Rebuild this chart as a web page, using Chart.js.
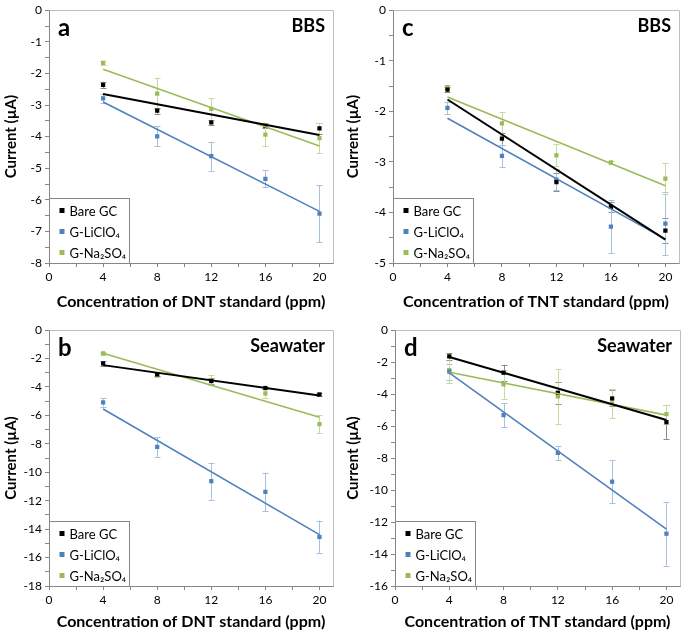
<!DOCTYPE html>
<html>
<head>
<meta charset="utf-8">
<script src="https://cdn.jsdelivr.net/npm/chart.js@4.4.1/dist/chart.umd.min.js"></script>
<style>
  body { margin: 0; background: #fff; }
  #wrap { position: relative; width: 685px; height: 634px; overflow: hidden; }
  canvas { position: absolute; }
</style>
</head>
<body>
<div id="wrap">
  <canvas id="pa" width="342" height="314" style="left:0;top:0"></canvas>
  <canvas id="pc" width="343" height="314" style="left:342px;top:0"></canvas>
  <canvas id="pb" width="342" height="318" style="left:0;top:316px"></canvas>
  <canvas id="pd" width="343" height="318" style="left:342px;top:316px"></canvas>
</div>
<script>
// x values (ppm)
const conc = [4, 8, 12, 16, 20];
const seriesNames = ["Bare GC", "G-LiClO\u2084", "G-Na\u2082SO\u2084"];
const seriesColors = ["#000000", "#4f81bd", "#9bbb59"];
const errColors = ["#8c8c8c", "#a7c0df", "#c6da9c"];

// a: DNT in BBS
const dntBbsBare = [-2.36, -3.18, -3.55, -3.66, -3.74];
const dntBbsBareErr = [0.1, 0.1, 0.08, 0.08, 0.17];
const dntBbsLi = [-2.79, -3.99, -4.62, -5.34, -6.44];
const dntBbsLiErr = [0.15, 0.32, 0.46, 0.27, 0.9];
const dntBbsNa = [-1.67, -2.64, -3.12, -3.94, -4.05];
const dntBbsNaErr = [0.05, 0.5, 0.34, 0.37, 0.48];

// b: DNT in seawater
const dntSeaBare = [-2.35, -3.12, -3.59, -4.08, -4.53];
const dntSeaBareErr = [0.15, 0.1, 0.2, 0.1, 0.1];
const dntSeaLi = [-5.09, -8.22, -10.63, -11.38, -14.55];
const dntSeaLiErr = [0.3, 0.7, 1.3, 1.35, 1.15];
const dntSeaNa = [-1.64, -3.17, -3.52, -4.46, -6.62];
const dntSeaNaErr = [0.1, 0.15, 0.35, 0.3, 0.65];

// c: TNT in BBS
const tntBbsBare = [-1.57, -2.54, -3.40, -3.89, -4.36];
const tntBbsBareErr = [0.05, 0.12, 0.18, 0.1, 0.25];
const tntBbsLi = [-1.93, -2.88, -3.35, -4.28, -4.22];
const tntBbsLiErr = [0.12, 0.22, 0.2, 0.52, 0.63];
const tntBbsNa = [-1.52, -2.24, -2.87, -3.01, -3.33];
const tntBbsNaErr = [0.04, 0.22, 0.22, 0.03, 0.3];

// d: TNT in seawater
const tntSeaBare = [-1.65, -2.67, -3.92, -4.28, -5.76];
const tntSeaBareErr = [0.2, 0.5, 0.7, 0.5, 1.05];
const tntSeaLi = [-2.6, -5.32, -7.68, -9.48, -12.73];
const tntSeaLiErr = [0.5, 0.75, 0.45, 1.35, 2.0];
const tntSeaNa = [-2.51, -3.40, -4.15, -4.59, -5.26];
const tntSeaNaErr = [0.8, 0.9, 1.7, 0.9, 0.6];

const FONT = "Lato, 'Open Sans', sans-serif";

// least squares line over the measured points (Excel linear trendline)
function trend(xs, ys) {
  const n = xs.length;
  const mx = xs.reduce((a, b) => a + b, 0) / n;
  const my = ys.reduce((a, b) => a + b, 0) / n;
  let sxy = 0, sxx = 0;
  for (let i = 0; i < n; i++) {
    sxy += (xs[i] - mx) * (ys[i] - my);
    sxx += (xs[i] - mx) * (xs[i] - mx);
  }
  const k = sxy / sxx;
  const x0 = xs[0], x1 = xs[n - 1];
  return [{ x: x0, y: my + k * (x0 - mx) }, { x: x1, y: my + k * (x1 - mx) }];
}

const errorBars = {
  id: "errorBars",
  beforeDatasetsDraw(chart) {
    const ctx = chart.ctx;
    const xs = chart.scales.x, ys = chart.scales.y;
    chart.data.datasets.forEach((ds) => {
      if (!ds.errors) return;
      ctx.save();
      ctx.strokeStyle = ds.errColor;
      ctx.lineWidth = 1;
      ds.data.forEach((p, i) => {
        const e = ds.errors[i];
        const px = Math.round(xs.getPixelForValue(p.x)) + 0.5;
        const top = ys.getPixelForValue(p.y + e);
        const bot = ys.getPixelForValue(p.y - e);
        ctx.beginPath();
        ctx.moveTo(px, top); ctx.lineTo(px, bot);
        ctx.moveTo(px - 3, Math.round(top) + 0.5); ctx.lineTo(px + 3, Math.round(top) + 0.5);
        ctx.moveTo(px - 3, Math.round(bot) + 0.5); ctx.lineTo(px + 3, Math.round(bot) + 0.5);
        ctx.stroke();
      });
      ctx.restore();
    });
  }
};

const frame = {
  id: "frame",
  afterDraw(chart, args, opts) {
    const ctx = chart.ctx;
    const a = chart.chartArea;
    ctx.save();
    ctx.strokeStyle = "#bfbfbf";
    ctx.lineWidth = 1;
    ctx.beginPath();
    ctx.moveTo(Math.round(a.left) + 0.5, Math.round(a.top) + 0.5);
    ctx.lineTo(Math.round(a.right) + 0.5, Math.round(a.top) + 0.5);
    ctx.lineTo(Math.round(a.right) + 0.5, Math.round(a.bottom) + 0.5);
    ctx.stroke();

    // panel letter and medium
    ctx.fillStyle = "#000";
    ctx.textBaseline = "middle";
    ctx.font = "bold 24px " + FONT;
    ctx.textAlign = "left";
    ctx.fillText(opts.letter, a.left + 9, a.top + 18);
    ctx.font = "bold 18px " + FONT;
    ctx.textAlign = "right";
    ctx.fillText(opts.medium, a.right - 8, a.top + 16);

    // legend box in the lower left corner
    const items = chart.data.datasets.filter((d) => d.errors);
    const bw = 80, bh = 65;
    const bx = Math.round(a.left) + 0.5, by = Math.round(a.bottom - bh) + 0.5;
    ctx.fillStyle = "#fff";
    ctx.fillRect(bx, by, bw, bh);
    ctx.strokeStyle = "#868686";
    ctx.strokeRect(bx, by, bw, bh);
    ctx.font = "13px " + FONT;
    ctx.textAlign = "left";
    items.forEach((d, i) => {
      const cy = by + 12 + i * 21;
      ctx.fillStyle = d.backgroundColor;
      ctx.fillRect(bx + 10, cy - 2.5, 5, 5);
      ctx.fillStyle = "#000";
      ctx.fillText(d.label, bx + 20, cy + 1);
    });
    ctx.restore();
  }
};

function makePanel(id, opts) {
  const datasets = [];
  opts.series.forEach((s, i) => {
    const pts = conc.map((x, j) => ({ x: x, y: s[j] }));
    datasets.push({
      type: "scatter",
      label: seriesNames[i],
      data: pts,
      errors: opts.errs[i],
      errColor: errColors[i],
      backgroundColor: seriesColors[i],
      borderColor: seriesColors[i],
      pointStyle: "rect",
      pointRadius: 3,
      borderWidth: 0,
      order: 2
    });
  });
  opts.series.forEach((s, i) => {
    datasets.push({
      type: "line",
      label: seriesNames[i] + " fit",
      data: trend(conc, s),
      borderColor: seriesColors[i],
      borderWidth: i === 0 ? 2 : 1.6,
      pointRadius: 0,
      fill: false,
      order: 1
    });
  });
  const W = opts.w, H = opts.h;
  return new Chart(document.getElementById(id), {
    type: "scatter",
    data: { datasets: datasets },
    plugins: [errorBars, frame],
    options: {
      responsive: false,
      animation: false,
      devicePixelRatio: 1,
      layout: { padding: { top: opts.top, right: W - opts.right, left: 0, bottom: 0 } },
      plugins: {
        legend: { display: false },
        tooltip: { enabled: false },
        frame: { letter: opts.letter, medium: opts.medium }
      },
      scales: {
        x: {
          type: "linear",
          min: 0,
          max: 21,
          afterFit: (sc) => { sc.height = H - opts.bottom; },
          afterBuildTicks: (sc) => {
            sc.ticks = [0, 2, 4, 6, 8, 10, 12, 14, 16, 18, 20].map((v) => ({ value: v }));
          },
          ticks: {
            color: "#000",
            font: { family: FONT, size: 12 },
            padding: 3,
            maxRotation: 0,
            autoSkip: false,
            callback: (v) => (v % 4 === 0 ? String(v) : "")
          },
          grid: { drawOnChartArea: false, tickLength: 4, color: "#868686" },
          border: { color: "#868686" },
          title: {
            display: true,
            text: opts.xTitle,
            color: "#000",
            font: { family: FONT, size: 16, weight: "bold" },
            padding: { top: 0, bottom: 3 }
          }
        },
        y: {
          type: "linear",
          min: opts.yMin,
          max: 0,
          afterFit: (sc) => { sc.width = opts.left; },
          afterBuildTicks: (sc) => {
            const t = [];
            for (let v = opts.yMin; v <= 0.0001; v += opts.minor) t.push({ value: Math.round(v * 100) / 100 });
            sc.ticks = t;
          },
          ticks: {
            color: "#000",
            font: { family: FONT, size: 12 },
            padding: 3,
            autoSkip: false,
            callback: (v) => (Math.abs(v / opts.major - Math.round(v / opts.major)) < 1e-6 ? String(v) : "")
          },
          grid: { drawOnChartArea: false, tickLength: 4, color: "#868686" },
          border: { color: "#868686" },
          title: {
            display: true,
            text: "Current (\u00b5A)",
            color: "#000",
            font: { family: FONT, size: 15, weight: "bold" },
            padding: { top: 2, bottom: 0 }
          }
        }
      }
    }
  });
}

makePanel("pa", {
  w: 342, h: 314, left: 49, right: 333, top: 9, bottom: 263,
  letter: "a", medium: "BBS", xTitle: "Concentration of DNT standard (ppm)",
  yMin: -8, major: 1, minor: 0.5,
  series: [dntBbsBare, dntBbsLi, dntBbsNa],
  errs: [dntBbsBareErr, dntBbsLiErr, dntBbsNaErr]
});
makePanel("pc", {
  w: 343, h: 314, left: 51, right: 337, top: 8, bottom: 263,
  letter: "c", medium: "BBS", xTitle: "Concentration of TNT standard (ppm)",
  yMin: -5, major: 1, minor: 0.5,
  series: [tntBbsBare, tntBbsLi, tntBbsNa],
  errs: [tntBbsBareErr, tntBbsLiErr, tntBbsNaErr]
});
makePanel("pb", {
  w: 342, h: 318, left: 49, right: 333, top: 14, bottom: 270,
  letter: "b", medium: "Seawater", xTitle: "Concentration of DNT standard (ppm)",
  yMin: -18, major: 2, minor: 1,
  series: [dntSeaBare, dntSeaLi, dntSeaNa],
  errs: [dntSeaBareErr, dntSeaLiErr, dntSeaNaErr]
});
makePanel("pd", {
  w: 343, h: 318, left: 53, right: 338, top: 14, bottom: 270,
  letter: "d", medium: "Seawater", xTitle: "Concentration of TNT standard (ppm)",
  yMin: -16, major: 2, minor: 1,
  series: [tntSeaBare, tntSeaLi, tntSeaNa],
  errs: [tntSeaBareErr, tntSeaLiErr, tntSeaNaErr]
});
</script>
</body>
</html>
